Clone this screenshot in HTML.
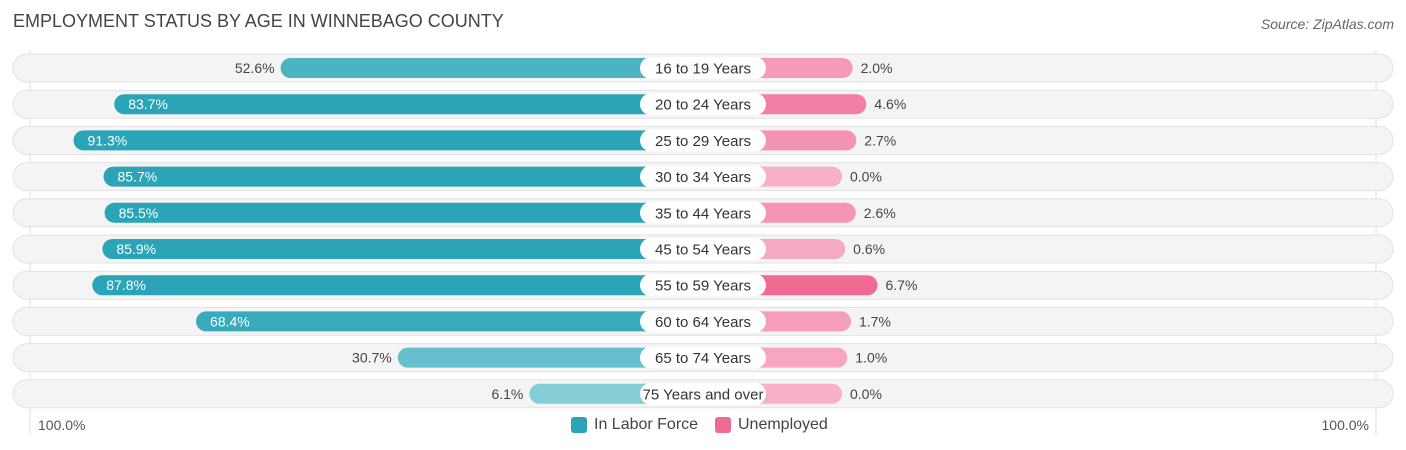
<!DOCTYPE html>
<html><head><meta charset="utf-8">
<style>
body{margin:0;width:1406px;height:450px;background:#fff;font-family:"Liberation Sans",sans-serif;overflow:hidden;position:relative}
.t{position:absolute;white-space:nowrap}
</style></head>
<body>
<div class="t" style="left:13px;top:11px;font-size:18px;color:#444">EMPLOYMENT STATUS BY AGE IN WINNEBAGO COUNTY</div>
<div class="t" style="right:12px;top:16px;font-size:14px;color:#666;font-style:italic">Source: ZipAtlas.com</div>
<svg id="chart" width="1406" height="450" style="position:absolute;left:0;top:0">
<line x1="30" y1="50" x2="30" y2="435" stroke="#ddd"/>
<line x1="1376" y1="50" x2="1376" y2="435" stroke="#ddd"/>
</svg>
<div class="t" style="left:38px;top:417px;font-size:14px;color:#555">100.0%</div>
<div class="t" style="right:37px;top:417px;font-size:14px;color:#555">100.0%</div>
<div style="position:absolute;left:571px;top:416px;font-size:16px;color:#444">
<span style="position:absolute;left:0;top:1px;width:16px;height:16px;border-radius:3px;background:#2ba5b6"></span>
<span class="t" style="left:23px;top:0">In Labor Force</span>
<span style="position:absolute;left:144px;top:1px;width:16px;height:16px;border-radius:3px;background:#f06a94"></span>
<span class="t" style="left:167px;top:0">Unemployed</span>
</div>
<script>
const categories=["16 to 19 Years","20 to 24 Years","25 to 29 Years","30 to 34 Years","35 to 44 Years","45 to 54 Years","55 to 59 Years","60 to 64 Years","65 to 74 Years","75 Years and over"];
const laborForce=[52.6,83.7,91.3,85.7,85.5,85.9,87.8,68.4,30.7,6.1];
const unemployed=[2.0,4.6,2.7,0.0,2.6,0.6,6.7,1.7,1.0,0.0];
const NS="http://www.w3.org/2000/svg";
const svg=document.getElementById('chart');
const cx=703, y0=68, dy=36.2;
function lx(v){return 141+v*5.35;}
function rx(v){return 139+v*5.3;}
function mk(tag,attrs){const e=document.createElementNS(NS,tag);for(const k in attrs)e.setAttribute(k,attrs[k]);svg.appendChild(e);return e;}
function mix(a,b,t){return 'rgb('+a.map((x,i)=>Math.round(x+(b[i]-x)*t)).join(',')+')';}
categories.forEach((c,i)=>{
  const y=y0+i*dy;
  const bg=mk('rect',{x:13,y:y-14,width:1380,height:28,rx:14,fill:'#f4f4f4',stroke:'#e2e2e2'});
  
  
  const lv=laborForce[i], w=lx(lv);
  const lb=mk('rect',{x:cx-w,y:y-10,width:w,height:20,rx:10,fill:mix([140,208,218],[42,164,182],Math.min(1,lv/80))});
  
  
  const uv=unemployed[i], uw=rx(uv);
  const ub=mk('rect',{x:cx,y:y-10,width:uw,height:20,rx:10,fill:mix([247,176,198],[240,106,148],Math.min(1,uv/6.7))});
  
  
  const inside=lv>60;
  const lt=mk('text',{x:inside?cx-w+14:cx-w-6,y:y+5,'font-size':14,fill:inside?'#fff':'#444','text-anchor':inside?'start':'end'});
  lt.textContent=lv.toFixed(1)+'%';
  
  
  const ut=mk('text',{x:cx+uw+8,y:y+5,'font-size':14,fill:'#444'});
  ut.textContent=uv.toFixed(1)+'%';
  
  
  const pl=mk('rect',{x:cx-63,y:y-11,width:126,height:22,rx:11,fill:'#fff'});
  
  
  const ct=mk('text',{x:cx,y:y+5.5,'font-size':15,fill:'#333','text-anchor':'middle'});
  ct.textContent=c;
  
  
});
</script>
</body></html>
